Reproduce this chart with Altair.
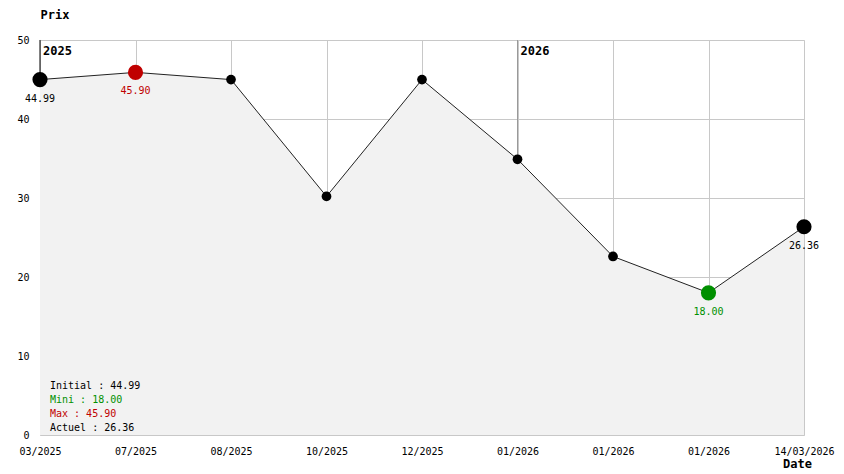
import altair as alt
import pandas as pd

# ---- data ----
dates = ["03/2025", "07/2025", "08/2025", "10/2025", "12/2025",
         "01/2026", "01/2026", "01/2026", "14/03/2026"]
prices = [44.99, 45.90, 44.99, 30.2, 44.99, 34.9, 22.6, 18.00, 26.36]
kinds = ["edge", "max", "normal", "normal", "normal", "normal", "normal", "min", "edge"]

year_idx = [0, 5]
year_labels = ["2025", "2026"]
year_colors = ["#000000", "#999999"]

stats_labels = ["Initial : 44.99", "Mini : 18.00", "Max : 45.90", "Actuel : 26.36"]
stats_colors = ["#000000", "#009000", "#c00000", "#000000"]

FONT = "DejaVu Sans Mono"

df = pd.DataFrame({"i": list(range(len(prices))), "date": dates,
                   "price": prices, "kind": kinds})
df_big = df[df["kind"] != "normal"]
df_small = df[df["kind"] == "normal"]
years = pd.DataFrame({"i": year_idx, "year": year_labels,
                      "price": [prices[k] for k in year_idx], "c": year_colors})

label_arr = "[" + ",".join("'" + d + "'" for d in dates) + "]"

x_enc = alt.X("i:Q", scale=alt.Scale(domain=[0, len(dates) - 1], nice=False, zero=False),
              axis=alt.Axis(values=list(range(len(dates))), labelExpr=label_arr + "[datum.value]",
                            title="Date", titleX=757, titleY=32, titleAlign="center",
                            titleBaseline="alphabetic", titleFont=FONT, titleFontSize=12,
                            titleFontWeight="bold", labelPadding=11, labelBaseline="top",
                            labelFont=FONT, labelFontSize=10, labelColor="#000",
                            grid=True, gridColor="#c8c8c8", domain=False, ticks=False,
                            labelOverlap=False, labelFlush=False))
y_enc = alt.Y("price:Q", scale=alt.Scale(domain=[0, 50], nice=False),
              axis=alt.Axis(values=[0, 10, 20, 30, 40, 50], title="Prix", titleAngle=0,
                            titleX=0, titleY=-22, titleAlign="left", titleBaseline="alphabetic",
                            titleFont=FONT, titleFontSize=12, titleFontWeight="bold",
                            labelFont=FONT, labelFontSize=10, labelColor="#000", labelPadding=11,
                            grid=True, gridColor="#c8c8c8", domain=False, ticks=False))

kind_dom = ["edge", "max", "min", "normal"]
color_scale = alt.Scale(domain=kind_dom, range=["#000000", "#c00000", "#009000", "#000000"])

base = alt.Chart(df)
area = base.mark_area(color="#f2f2f2", opacity=1).encode(x=x_enc, y=y_enc)
line = base.mark_line(color="#222222", strokeWidth=1).encode(x="i:Q", y="price:Q")
pts_small = alt.Chart(df_small).mark_circle(opacity=1, size=95, color="#000000").encode(
    x="i:Q", y="price:Q")
pts_big = alt.Chart(df_big).mark_circle(opacity=1, size=230).encode(
    x="i:Q", y="price:Q",
    color=alt.Color("kind:N", scale=color_scale, legend=None))
labels = alt.Chart(df_big).mark_text(font=FONT, fontSize=10, dy=19, baseline="middle").encode(
    x="i:Q", y="price:Q", text=alt.Text("price:Q", format=".2f"),
    color=alt.Color("kind:N", scale=color_scale, legend=None))

yr_rule = alt.Chart(years).mark_rule(strokeWidth=1).encode(
    x="i:Q", y="price:Q", y2=alt.datum(50), color=alt.Color("c:N", scale=None))
yr_text = alt.Chart(years).mark_text(font=FONT, fontSize=12, fontWeight="bold",
                                     align="left", baseline="top", dx=3, dy=6,
                                     color="#000").encode(
    x="i:Q", y=alt.datum(50), text="year:N")

stats = []
for k, (s, c) in enumerate(zip(stats_labels, stats_colors)):
    stats.append(alt.Chart(df.head(1)).mark_text(font=FONT, fontSize=10, align="left",
                                                 baseline="middle", color=c, text=s).encode(
        x=alt.value(10), y=alt.value(346 + 14 * k)))

chart = alt.layer(area, yr_rule, line, pts_small, pts_big, labels, yr_text, *stats).properties(
    width=764, height=395,
    autosize=alt.AutoSizeParams(type="none"),
    padding={"left": 32, "top": 32, "right": 32, "bottom": 34},
).configure_view(stroke=None).configure(background="white")

chart.save("out.html", embed_options={"renderer": "svg", "actions": False})
